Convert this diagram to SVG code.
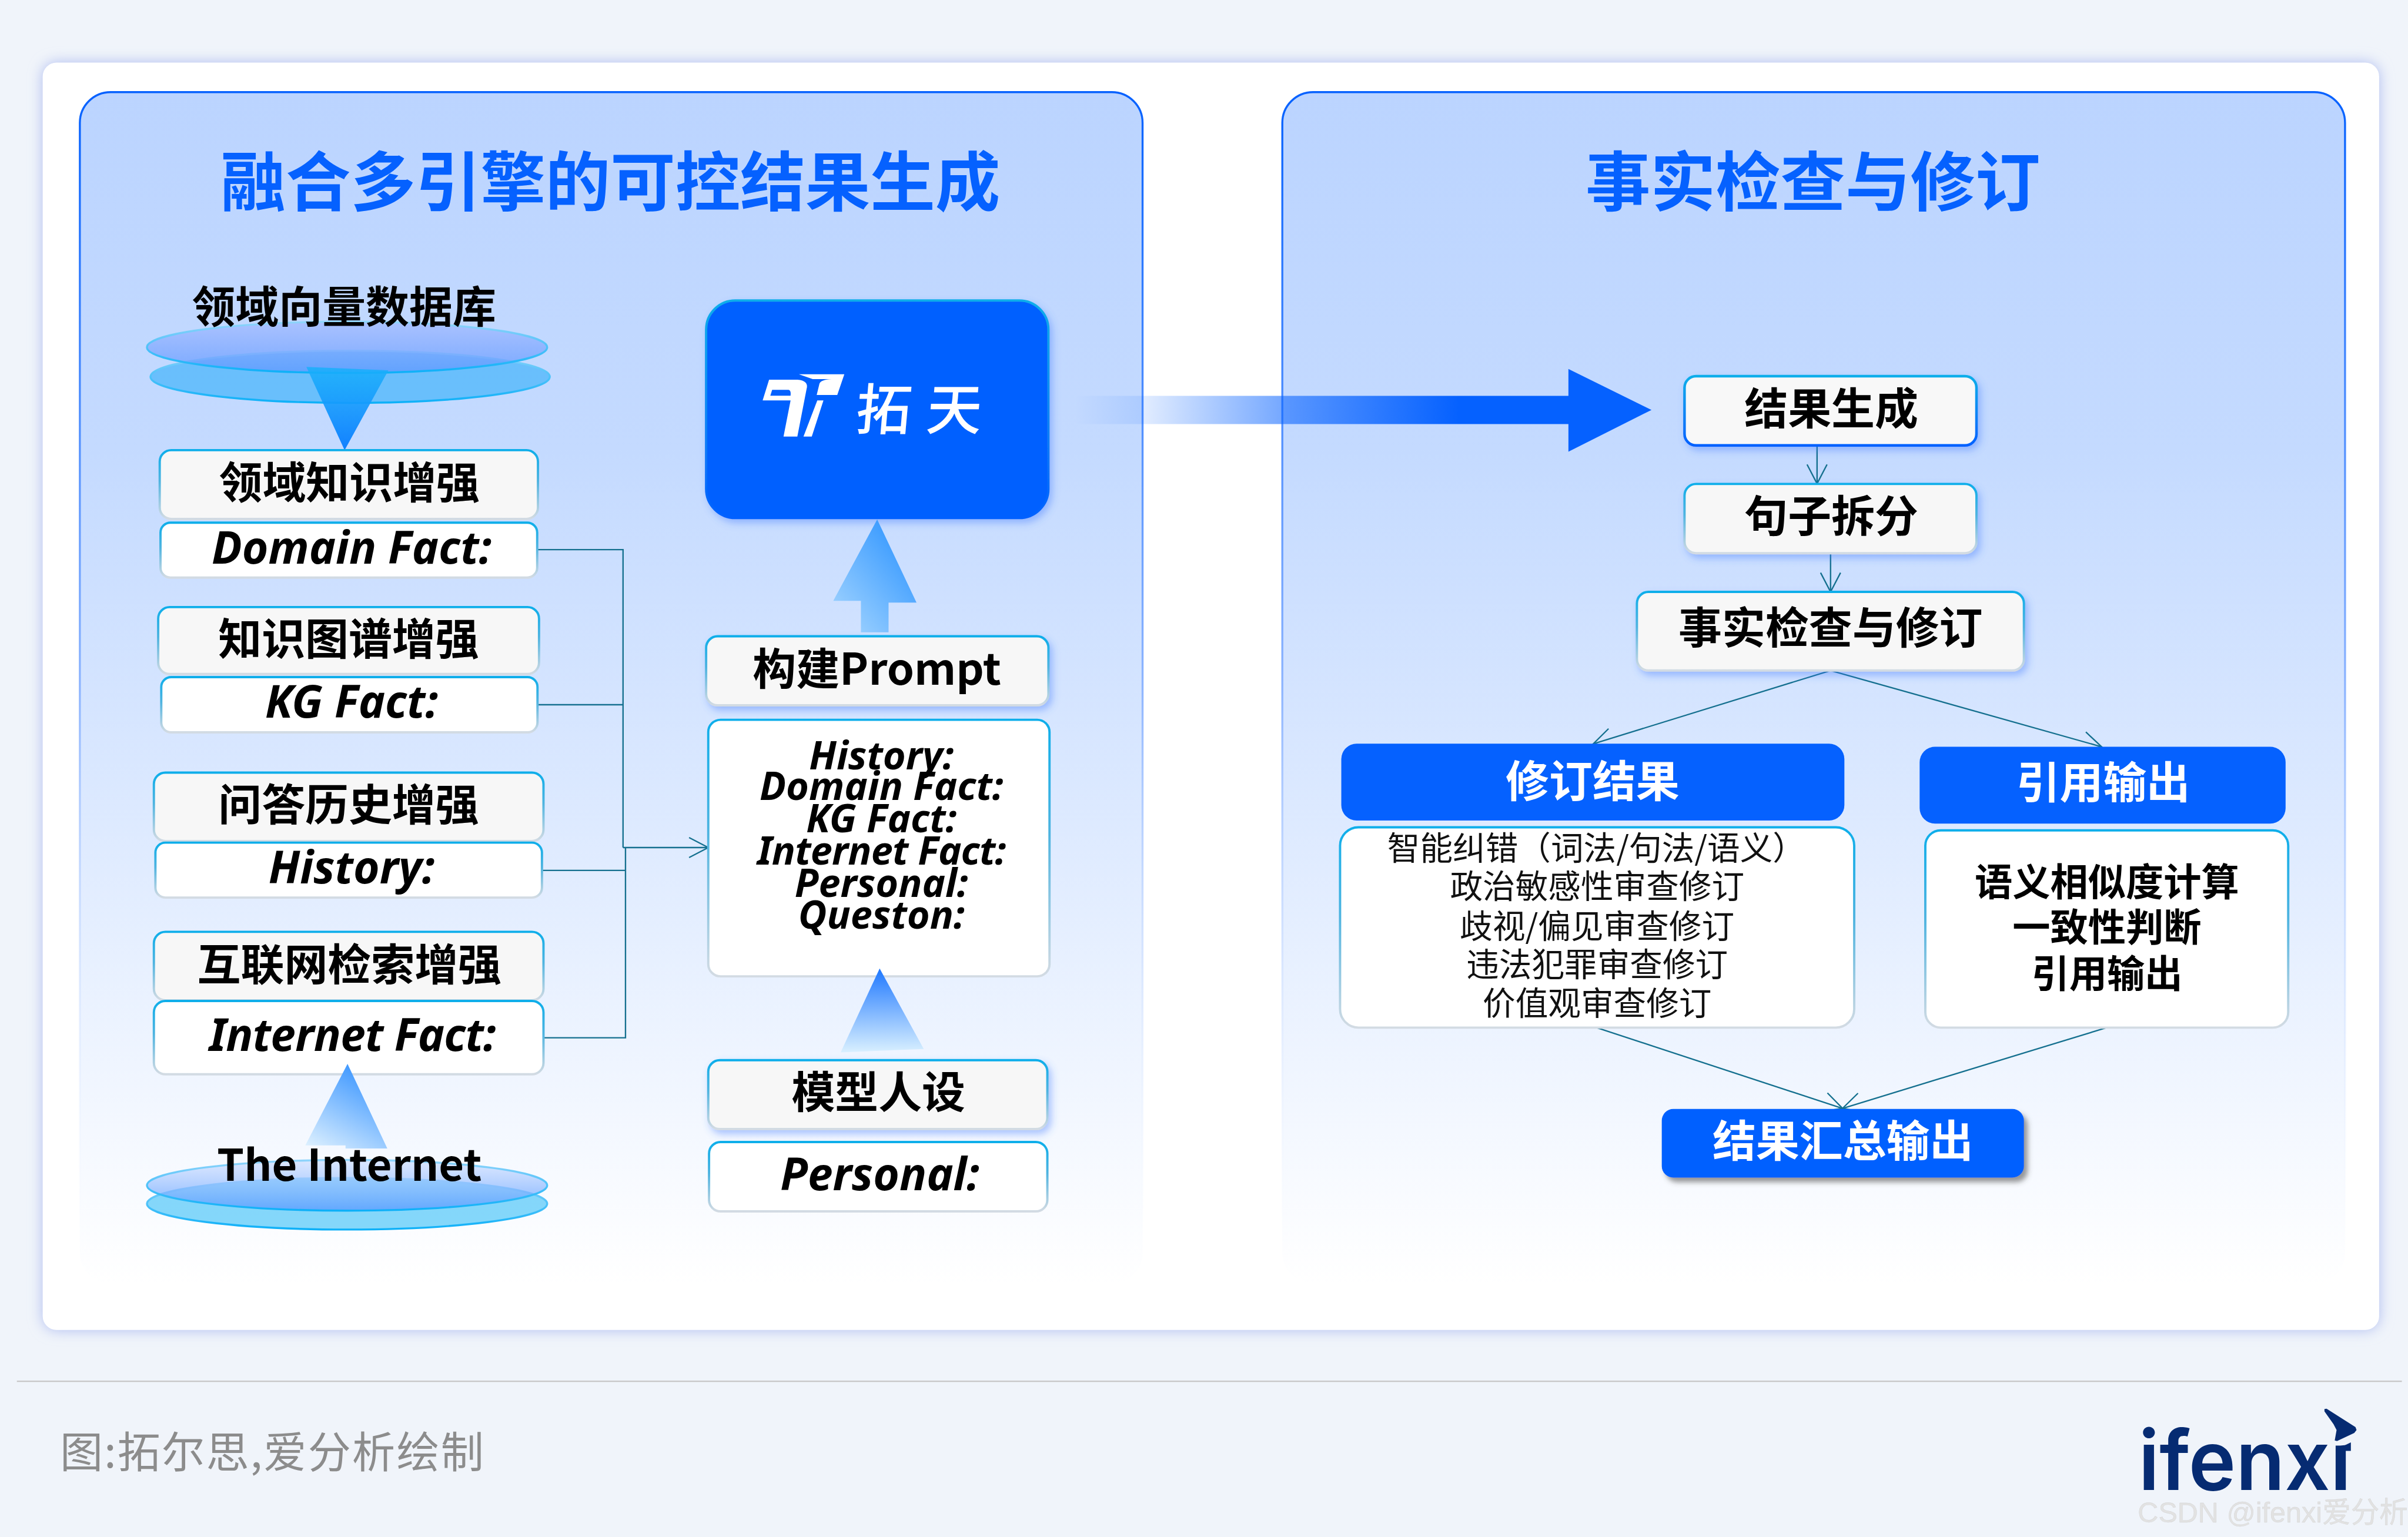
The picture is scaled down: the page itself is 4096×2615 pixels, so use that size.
<svg xmlns="http://www.w3.org/2000/svg" width="4096" height="2615" viewBox="0 0 4096 2615">
<style>
text{font-family:"Noto Sans CJK SC","Noto Sans",sans-serif;text-anchor:middle}
.b{font-weight:700;font-size:28.3px;fill:#000}
.w{font-weight:700;font-size:28.3px;fill:#fff}
.i{font-family:"Noto Sans","Noto Sans CJK SC",sans-serif;font-style:italic;font-weight:700;font-size:29.3px;fill:#000}
.im{font-family:"Noto Sans","Noto Sans CJK SC",sans-serif;font-style:italic;font-weight:700;font-size:25.5px;fill:#000}
.t{font-weight:700;font-size:42.3px;fill:#0561ff}
.l{font-weight:400;font-size:21.3px;fill:#111}
.m{font-weight:700;font-size:24.6px;fill:#000}
.gray{fill:#f7f7f7;stroke:url(#edge);stroke-width:1.5}
.white{fill:#fff;stroke:url(#edge);stroke-width:1.5}
.blue{fill:#0561ff}
.panel{fill:url(#panelFill);stroke:url(#panelEdge);stroke-width:1.3}
.c{fill:none;stroke:#15708f;stroke-width:.9}
.ca{fill:none;stroke:#15708f;stroke-width:.9;marker-end:url(#open)}
</style>
<defs>
<linearGradient id="edge" x1="0" y1="0" x2="0" y2="1"><stop offset="0" stop-color="#0eaeea"/><stop offset=".45" stop-color="#4fb4e0"/><stop offset="1" stop-color="#d3dbe3"/></linearGradient>
<linearGradient id="edgeBlue" x1="0" y1="0" x2="0" y2="1"><stop offset="0" stop-color="#0eaeea"/><stop offset="1" stop-color="#0561ff"/></linearGradient>
<linearGradient id="panelFill" x1="0" y1="0" x2="0" y2="1"><stop offset="0" stop-color="#bbd4ff"/><stop offset=".3" stop-color="#c4daff"/><stop offset=".6" stop-color="#dce9ff"/><stop offset="1" stop-color="#fff"/></linearGradient>
<linearGradient id="panelEdge" x1="0" y1="0" x2="0" y2="1"><stop offset="0" stop-color="#0561ff"/><stop offset=".5" stop-color="#8fb6ff"/><stop offset="1" stop-color="#fff" stop-opacity="0"/></linearGradient>
<linearGradient id="ringEdge" x1="0" y1="0" x2="0" y2="1"><stop offset="0" stop-color="#8fd4fb"/><stop offset="1" stop-color="#0db0f8"/></linearGradient>
<linearGradient id="e1" x1="0" y1="0" x2="0" y2="1"><stop offset="0" stop-color="#a0b8ff" stop-opacity=".7"/><stop offset="1" stop-color="#5f98ff" stop-opacity=".75"/></linearGradient>
<linearGradient id="e3" x1="0" y1="0" x2="0" y2="1"><stop offset="0" stop-color="#c5d8ff" stop-opacity=".55"/><stop offset="1" stop-color="#5a9cff" stop-opacity=".8"/></linearGradient>
<linearGradient id="triDown" x1="0" y1="0" x2="0" y2="1"><stop offset="0" stop-color="#19b0fb" stop-opacity=".85"/><stop offset="1" stop-color="#1180ff"/></linearGradient>
<linearGradient id="triUp" x1="0" y1="1" x2=".55" y2="0"><stop offset="0" stop-color="#e2f3ff"/><stop offset="1" stop-color="#3f98ff"/></linearGradient>
<linearGradient id="triUp2" x1="0" y1="1" x2="0" y2="0"><stop offset="0" stop-color="#d9f0ff"/><stop offset="1" stop-color="#1f78ff"/></linearGradient>
<linearGradient id="blockUp" x1="0" y1="1" x2=".8" y2=".1"><stop offset="0" stop-color="#a9d8ff"/><stop offset="1" stop-color="#3598ff"/></linearGradient>
<linearGradient id="bigArrow" gradientUnits="userSpaceOnUse" x1="700" y1="0" x2="950" y2="0"><stop offset="0" stop-color="#0561ff" stop-opacity="0"/><stop offset=".18" stop-color="#0561ff" stop-opacity=".12"/><stop offset=".54" stop-color="#0561ff" stop-opacity=".55"/><stop offset="1" stop-color="#0561ff"/></linearGradient>
<filter id="cardShadow" x="-5%" y="-5%" width="110%" height="110%"><feGaussianBlur stdDeviation="4.5"/></filter>
<filter id="sh" x="-15%" y="-25%" width="130%" height="150%"><feDropShadow dx="1.8" dy="2.5" stdDeviation="2.5" flood-color="#3f78ff" flood-opacity=".42"/></filter>
<filter id="shGray" x="-15%" y="-25%" width="130%" height="150%"><feDropShadow dx="2.5" dy="3" stdDeviation="1.6" flood-color="#444" flood-opacity=".55"/></filter>
<marker id="open" viewBox="-14 -8 16 16" refX="0" refY="0" markerWidth="16" markerHeight="16" markerUnits="userSpaceOnUse" orient="auto"><path d="M-12.5,-6.5 L0,0 L-12.5,6.5" fill="none" stroke="#15708f" stroke-width=".9"/></marker>
</defs>
<rect width="4096" height="2615" fill="#f0f4fa"/>
<g transform="scale(2.61224)">
<g id="card">
<rect x="27.8" y="40.8" width="1521.4" height="825.4" rx="9" fill="#aebcf0" filter="url(#cardShadow)"/>
<rect x="27.8" y="40.8" width="1521.4" height="825.4" rx="9" fill="#fff"/>
</g>
<g id="panel-left">
<rect class="panel" x="52" y="60" width="692" height="776" rx="20"/>
<text class="t" x="397.5" y="134">融合多引擎的可控结果生成</text>
</g>
<g id="panel-right">
<rect class="panel" x="835" y="60" width="692" height="776" rx="20"/>
<text class="t" x="1180.5" y="134">事实检查与修订</text>
</g>

<g id="big-arrow"><path fill="url(#bigArrow)" d="M700,257.8H1022V276.2H700Z"/><path fill="#0561ff" d="M1021.3,240.3L1075.4,267L1021.3,294.2Z"/></g>

<g id="connectors">
<path class="c" d="M350,358H405.7V552"/>
<path class="c" d="M350,459H405.7"/>
<path class="c" d="M353,566.9H407.3"/>
<path class="c" d="M354,675.9H407.3V552"/>
<path class="ca" d="M405.7,552H461.2"/>
<path class="ca" d="M1183.2,290V315"/>
<path class="ca" d="M1192,360.3V385.5"/>
<path class="ca" d="M1192,436.7L1037.4,484.5"/>
<path class="ca" d="M1192,436.7L1368.5,486.4"/>
<path class="ca" d="M1039.6,669.3L1199.8,721.9"/>
<path class="ca" d="M1371.8,669.3L1199.8,721.9"/>
</g>

<g id="db-domain">
<ellipse cx="228" cy="245.4" rx="130" ry="17" fill="#46b4fb" fill-opacity=".72" stroke="url(#ringEdge)" stroke-width="1.3"/>
<ellipse cx="226" cy="226.2" rx="130.3" ry="16.7" fill="url(#e1)" stroke="url(#ringEdge)" stroke-width="1.3"/>
<path d="M199.5,239L252.9,241.2L224.4,293.2Z" fill="url(#triDown)"/>
<text class="b" x="224" y="210">领域向量数据库</text>
</g>
<g id="box-domain">
<rect class="gray" x="104" y="293.2" width="246.3" height="44.8" rx="7.5"/>
<text class="b" x="227.5" y="324.5">领域知识增强</text>
<rect class="white" x="104.5" y="340.4" width="245.3" height="35.8" rx="6.5"/>
<text class="i" x="229" y="367.3">Domain Fact:</text>
</g>
<g id="box-kg">
<rect class="gray" x="103" y="395.4" width="248" height="43.6" rx="7.5"/>
<text class="b" x="227" y="426.5">知识图谱增强</text>
<rect class="white" x="105" y="441" width="245" height="36" rx="6.5"/>
<text class="i" x="229" y="467.3">KG Fact:</text>
</g>
<g id="box-history">
<rect class="gray" x="100.2" y="503.2" width="253.7" height="44.6" rx="7.5"/>
<text class="b" x="227" y="534.5">问答历史增强</text>
<rect class="white" x="101.2" y="548.8" width="251.7" height="35.8" rx="6.5"/>
<text class="i" x="229" y="575.3">History:</text>
</g>
<g id="box-internet">
<rect class="gray" x="100.2" y="606.9" width="253.7" height="44.6" rx="7.5"/>
<text class="b" x="227.5" y="638.5">互联网检索增强</text>
<rect class="white" x="100.2" y="651.9" width="253.7" height="47.8" rx="7.5"/>
<text class="i" x="229.5" y="684.3" letter-spacing="-.3">Internet Fact:</text>
</g>
<g id="db-internet">
<path d="M226.3,692.9L198.8,746H225V748H252.2Z" fill="url(#triUp)"/>
<ellipse cx="226" cy="784" rx="130.3" ry="16.8" fill="#66cdf9" fill-opacity=".8" stroke="url(#ringEdge)" stroke-width="1.3"/>
<ellipse cx="226" cy="772" rx="130.3" ry="16.5" fill="url(#e3)" stroke="url(#ringEdge)" stroke-width="1.3"/>
<text class="b" x="227.5" y="769">The Internet</text>
</g>

<g id="engine">
<rect x="459.8" y="195.7" width="222.9" height="141.7" rx="19" fill="#0561ff" stroke="url(#edgeBlue)" stroke-width="1.5" filter="url(#sh)"/>
<g transform="translate(431.2,176.4) scale(.2,.175)" fill="#fff">
<path d="M327,482L348,405H440Q478,408 470,440L440,617H395L418,482Z"/>
<path fill="#0561ff" d="M358,443H412Q420,445 418,465H352Z"/>
<path d="M445,385H593L570,462H503L512,420Q516,405 552,403H490Z"/>
<path d="M505,482H525L487,617H460Z"/>
</g>
<text x="603" y="280" font-size="36" font-weight="500" fill="#fff" letter-spacing="10" transform="translate(24,0) skewX(-5)">拓天</text>
</g>
<g id="block-arrow"><path d="M571.2,338.3L542.6,391.3H560.6V411.8H578.6V392.5H596.8Z" fill="url(#blockUp)"/></g>
<g id="box-prompt">
<rect class="gray" x="459.8" y="414.4" width="222.9" height="45" rx="7.5" filter="url(#sh)"/>
<text class="b" x="571" y="446">构建Prompt</text>
</g>
<g id="box-template">
<rect class="white" x="461.2" y="468.8" width="222.2" height="167.1" rx="8"/>
<text class="im" x="574" y="501">History:</text>
<text class="im" x="574" y="521">Domain Fact:</text>
<text class="im" x="574" y="542">KG Fact:</text>
<text class="im" x="574" y="563" letter-spacing="-.3">Internet Fact:</text>
<text class="im" x="574" y="584">Personal:</text>
<text class="im" x="574" y="605">Queston:</text>
</g>
<g id="tri-personal"><path d="M572.8,630.8L547.4,685.4L601.5,683.2Z" fill="url(#triUp2)"/></g>
<g id="box-persona">
<rect class="gray" x="461.2" y="690.5" width="220.8" height="44.9" rx="7.5" filter="url(#sh)"/>
<text class="b" x="572" y="721.5">模型人设</text>
</g>
<g id="box-personal">
<rect class="white" x="461.7" y="743.8" width="220.3" height="45.2" rx="7.5"/>
<text class="i" x="573" y="775.3">Personal:</text>
</g>

<g id="n-result">
<rect x="1096.9" y="245" width="190.1" height="45.1" rx="7.5" fill="#f8f8f8" stroke="url(#edgeBlue)" stroke-width="1.7" filter="url(#sh)"/>
<text class="b" x="1192.5" y="276.5">结果生成</text>
</g>
<g id="n-split">
<rect class="gray" x="1096.9" y="315.2" width="190.1" height="45.1" rx="7.5" filter="url(#sh)"/>
<text class="b" x="1192.5" y="346.5">句子拆分</text>
</g>
<g id="n-check">
<rect class="gray" x="1065.9" y="385.5" width="252" height="51.2" rx="7.5" filter="url(#sh)"/>
<text class="b" x="1192" y="419">事实检查与修订</text>
</g>
<g id="n-revise">
<rect class="blue" x="873.4" y="484.4" width="327.6" height="50" rx="10"/>
<text class="w" x="1037" y="519">修订结果</text>
<rect class="white" x="872.6" y="538.8" width="334.8" height="130.5" rx="12"/>
<text class="l" x="1039.5" y="560">智能纠错（词法/句法/语义）</text>
<text class="l" x="1040" y="585">政治敏感性审查修订</text>
<text class="l" x="1040" y="611">歧视/偏见审查修订</text>
<text class="l" x="1040" y="636">违法犯罪审查修订</text>
<text class="l" x="1040" y="661">价值观审查修订</text>
</g>
<g id="n-cite">
<rect class="blue" x="1250" y="486.4" width="238.3" height="50" rx="10"/>
<text class="w" x="1369.5" y="520">引用输出</text>
<rect class="white" x="1253.7" y="540.8" width="236.3" height="128.5" rx="10"/>
<text class="m" x="1372" y="583.5">语义相似度计算</text>
<text class="m" x="1372" y="613">一致性判断</text>
<text class="m" x="1372" y="643">引用输出</text>
</g>
<g id="n-output">
<rect class="blue" x="1082.1" y="722.3" width="235.8" height="44.7" rx="7.5" filter="url(#shGray)"/>
<text class="w" x="1200" y="753.5">结果汇总输出</text>
</g>

<g id="footer">
<rect x="11" y="899.2" width="1553" height=".9" fill="#c8c8c8"/>
<text x="39" y="956" font-size="28" letter-spacing=".85" fill="#8c8c8c" style="text-anchor:start">图:拓尔思,爱分析绘制</text>
</g>
<g id="logo">
<text x="1392.5" y="970.5" font-size="54" font-weight="600" fill="#062b72" style="font-family:Inter,'Liberation Sans',sans-serif;text-anchor:start" textLength="138.5" lengthAdjust="spacingAndGlyphs">ifenxi</text>
<path fill="#f0f4fa" d="M1519,925H1535V940.5L1523.8,941.5H1519Z"/>
<path fill="#062b72" d="M1513.6,917.7L1515,917.5L1533.8,929.5L1534.5,931.4L1533,933.3L1521.8,938.6L1520.3,938.2L1521.5,931.4L1519.5,927.6L1513.6,919.2Z"/>
<path fill="#062b72" d="M1523.9,942.8L1530.8,939.4V945H1523.9Z"/>
</g>
<text x="1480" y="991.5" font-size="18.6" fill="#e2e2e2" stroke="#d2d2d2" stroke-width=".15" style="font-family:'Liberation Sans','Noto Sans CJK SC',sans-serif">CSDN @ifenxi爱分析</text>
</g>
</svg>
